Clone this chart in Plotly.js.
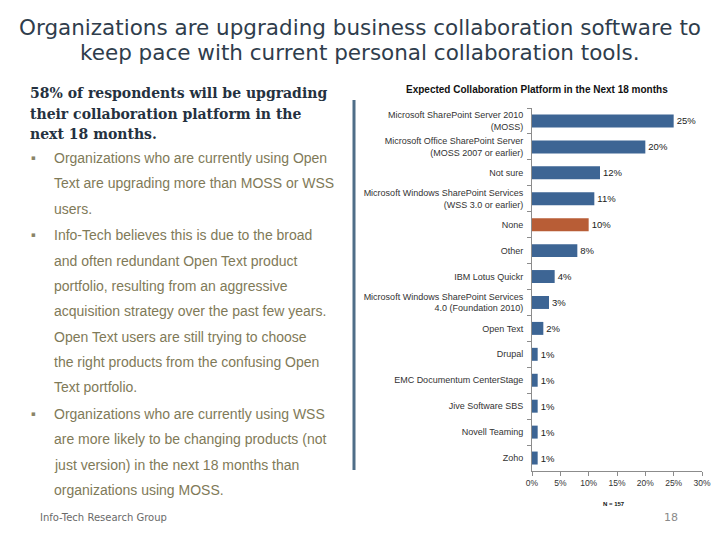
<!DOCTYPE html>
<html>
<head>
<meta charset="utf-8">
<script src="https://cdn.plot.ly/plotly-3.0.1.min.js"></script>
<style>
html,body{margin:0;padding:0;background:#fff;}
#chart{width:720px;height:540px;}
</style>
</head>
<body>
<div id="chart"></div>
<script>
// ---- data ----
const categories = [
  "Microsoft SharePoint Server 2010<br>(MOSS)",
  "Microsoft Office SharePoint Server<br>(MOSS 2007 or earlier)",
  "Not sure",
  "Microsoft Windows SharePoint Services<br>(WSS 3.0 or earlier)",
  "None",
  "Other",
  "IBM Lotus Quickr",
  "Microsoft Windows SharePoint Services<br>4.0 (Foundation 2010)",
  "Open Text",
  "Drupal",
  "EMC Documentum CenterStage",
  "Jive Software SBS",
  "Novell Teaming",
  "Zoho"
];
const values = [25, 20, 12, 11, 10, 8, 4, 3, 2, 1, 1, 1, 1, 1];
const valueLabels = ["25%","20%","12%","11%","10%","8%","4%","3%","2%","1%","1%","1%","1%","1%"];
const highlighted = "None";
const xTickVals = [0, 5, 10, 15, 20, 25, 30];
const xTickText = ["0%","5%","10%","15%","20%","25%","30%"];

const slideTitleLines = ["Organizations are upgrading business collaboration software to", "keep pace with current personal collaboration tools."];
const subtitleLines = ["58% of respondents will be upgrading", "their collaboration platform in the", "next 18 months."];
const bullets = [
  ["Organizations who are currently using Open", "Text are upgrading more than MOSS or WSS", "users."],
  ["Info-Tech believes this is due to the broad", "and often redundant Open Text product", "portfolio, resulting from an aggressive", "acquisition strategy over the past few years.", "Open Text users are still trying to choose", "the right products from the confusing Open", "Text portfolio."],
  ["Organizations who are currently using WSS", "are more likely to be changing products (not", "just version) in the next 18 months than", "organizations using MOSS."]
];
const chartTitle = "Expected Collaboration Platform in the Next 18 months";
const nNote = "N = 157";
const footer = "Info-Tech Research Group";
const pageNum = "18";

// ---- build ----
const blue = "#3d6594", orange = "#b85d36";
const colors = categories.map(c => c === highlighted ? orange : blue);

const trace = {
  type: "bar", orientation: "h",
  x: values, y: categories,
  marker: {color: colors},
  width: 0.5,
  text: valueLabels, textposition: "outside",
  textfont: {family: "Liberation Sans, Arial, sans-serif", size: 9.5, color: "#222"},
  cliponaxis: false, hoverinfo: "none"
};

const annotations = [];
const W = 720, H = 540;
function px(x){return x/W;}
function py(y){return 1 - y/H;}

slideTitleLines.forEach((t,i)=>{
  annotations.push({xref:"paper", yref:"paper", x:px(360), y:py(27 + i*26), text:t, showarrow:false,
    xanchor:"center", yanchor:"middle", align:"center",
    font:{family:"DejaVu Sans, sans-serif", size:21.5, color:"#2f3d4c"}});
});

subtitleLines.forEach((t,i)=>{
  annotations.push({xref:"paper", yref:"paper", x:px(28), y:py(93 + i*20.5), text:"<b>"+t+"</b>", showarrow:false,
    xanchor:"left", yanchor:"middle",
    font:{family:"DejaVu Serif, Georgia, serif", size:14, color:"#253140"}});
});

let lineY = 158;
bullets.forEach((b, bi)=>{
  annotations.push({xref:"paper", yref:"paper", x:px(29), y:py(lineY), text:"▪", showarrow:false,
    xanchor:"left", yanchor:"middle", font:{family:"DejaVu Sans, sans-serif", size:7, color:"#8a8468"}});
  b.forEach((t, li)=>{
    annotations.push({xref:"paper", yref:"paper", x:px(52), y:py(lineY), text:t, showarrow:false,
      xanchor:"left", yanchor:"middle",
      font:{family:"Liberation Sans, Arial, sans-serif", size:14, color:"#7f7a58"}});
    lineY += 25.3;
  });
  lineY += 1.5;
});

annotations.push({xref:"paper", yref:"paper", x:px(537), y:py(90), text:"<b>"+chartTitle+"</b>", showarrow:false,
  xanchor:"center", yanchor:"middle", font:{family:"Liberation Sans, Arial, sans-serif", size:10, color:"#111"}});
annotations.push({xref:"paper", yref:"paper", x:px(614), y:py(504), text:"<b>"+nNote+"</b>", showarrow:false,
  xanchor:"center", yanchor:"middle", font:{family:"Liberation Sans, Arial, sans-serif", size:6, color:"#111"}});
annotations.push({xref:"paper", yref:"paper", x:px(38), y:py(517), text:footer, showarrow:false,
  xanchor:"left", yanchor:"middle", font:{family:"DejaVu Sans, sans-serif", size:10, color:"#6a6a6a"}});
annotations.push({xref:"paper", yref:"paper", x:px(671), y:py(517), text:pageNum, showarrow:false,
  xanchor:"center", yanchor:"middle", font:{family:"DejaVu Sans, sans-serif", size:11, color:"#8a8a8a"}});

const layout = {
  width: W, height: H,
  margin: {l:0, r:0, t:0, b:0},
  paper_bgcolor: "#fff", plot_bgcolor: "#fff",
  showlegend: false,
  bargap: 0.5,
  xaxis: {
    domain: [px(532), px(702)], range: [0, 30], anchor: "y",
    tickvals: xTickVals, ticktext: xTickText,
    showgrid: false, zeroline: false,
    showline: true, linecolor: "#8c8c8c", linewidth: 1,
    ticks: "outside", ticklen: 4, tickcolor: "#8c8c8c",
    tickfont: {family: "Liberation Sans, Arial, sans-serif", size: 8.5, color: "#333"},
    fixedrange: true
  },
  yaxis: {
    domain: [py(471), py(108)], autorange: "reversed", type: "category",
    showgrid: false, zeroline: false,
    showline: true, linecolor: "#8c8c8c", linewidth: 1,
    ticks: "outside", ticklen: 4, tickcolor: "#8c8c8c", tickson: "boundaries",
    tickfont: {family: "Liberation Sans, Arial, sans-serif", size: 9, color: "#333"},
    ticklabelstandoff: 6,
    fixedrange: true
  },
  shapes: [{type:"line", xref:"paper", yref:"paper", x0:px(354), x1:px(354), y0:py(100), y1:py(470),
    line:{color:"#4f6e88", width:3}}],
  annotations: annotations
};

Plotly.newPlot("chart", [trace], layout, {displayModeBar: false, staticPlot: true});
</script>
</body>
</html>
